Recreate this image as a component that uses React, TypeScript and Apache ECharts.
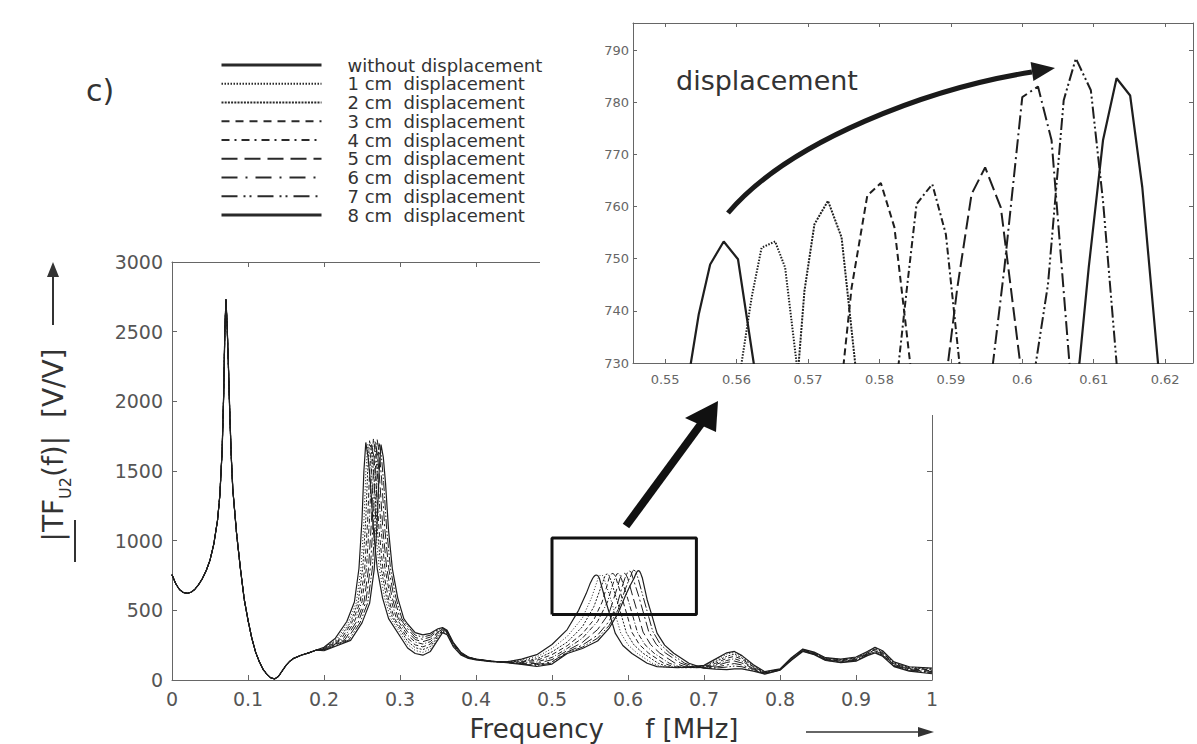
import React, { useEffect, useRef } from 'react';
import * as echarts from 'echarts';

const FONT = "'DejaVu Sans', 'Liberation Sans', sans-serif";

const curveNames = [
  'without displacement',
  '1 cm  displacement',
  '2 cm  displacement',
  '3 cm  displacement',
  '4 cm  displacement',
  '5 cm  displacement',
  '6 cm  displacement',
  '7 cm  displacement',
  '8 cm  displacement',
];

// Shared low-frequency part (all curves coincide), [f MHz, |TF|]
const sharedLow = [
  [0, 755], [0.005, 690], [0.01, 648], [0.015, 628], [0.02, 622], [0.025, 630], [0.03, 650],
  [0.035, 685], [0.04, 728], [0.045, 785], [0.05, 860], [0.055, 975], [0.06, 1150], [0.063, 1330],
  [0.066, 1650], [0.068, 2050], [0.0695, 2500], [0.071, 2730], [0.0725, 2550], [0.074, 2300],
  [0.076, 1920], [0.078, 1600], [0.08, 1370], [0.085, 1050], [0.09, 800], [0.095, 580],
  [0.1, 430], [0.105, 300], [0.11, 200], [0.115, 130], [0.12, 75], [0.125, 40], [0.13, 15],
  [0.135, 8], [0.14, 25], [0.145, 65], [0.15, 105], [0.155, 135], [0.16, 155], [0.17, 178],
  [0.18, 195], [0.19, 215],
];

// Resonance near 0.26 MHz, one list per curve
const peak1Curves = [
  [[0.2, 235], [0.215, 300], [0.23, 420], [0.24, 560], [0.246, 800], [0.25, 1150], [0.2525, 1500], [0.255, 1705], [0.258, 1600], [0.261, 1420], [0.265, 1080], [0.27, 800], [0.277, 590], [0.285, 440], [0.31, 230], [0.32, 190], [0.33, 178], [0.34, 205], [0.35, 290], [0.356, 340], [0.362, 325], [0.37, 240], [0.38, 180], [0.39, 155], [0.4, 145], [0.42, 132]],
  [[0.2, 232], [0.2175, 298], [0.2325, 418], [0.2425, 555], [0.2485, 790], [0.2525, 1140], [0.255, 1490], [0.2575, 1690], [0.2605, 1610], [0.2635, 1410], [0.2675, 1090], [0.2725, 810], [0.2795, 595], [0.2875, 445], [0.31, 255], [0.32, 212], [0.33, 198], [0.34, 222], [0.35, 300], [0.356, 345], [0.362, 330], [0.37, 245], [0.38, 183], [0.39, 157], [0.4, 146], [0.42, 132]],
  [[0.2, 229], [0.22, 296], [0.235, 415], [0.245, 560], [0.251, 805], [0.255, 1160], [0.2575, 1510], [0.26, 1720], [0.263, 1620], [0.266, 1430], [0.27, 1085], [0.275, 805], [0.282, 600], [0.29, 448], [0.31, 278], [0.32, 232], [0.33, 218], [0.34, 240], [0.35, 312], [0.356, 350], [0.362, 335], [0.37, 250], [0.38, 186], [0.39, 158], [0.4, 147], [0.42, 133]],
  [[0.2, 226], [0.2225, 294], [0.2375, 420], [0.2475, 558], [0.2535, 795], [0.2575, 1150], [0.26, 1495], [0.2625, 1700], [0.2655, 1605], [0.2685, 1415], [0.2725, 1075], [0.2775, 800], [0.2845, 592], [0.2925, 442], [0.31, 300], [0.32, 252], [0.33, 238], [0.34, 258], [0.35, 324], [0.356, 355], [0.362, 340], [0.37, 254], [0.38, 189], [0.39, 160], [0.4, 148], [0.42, 133]],
  [[0.2, 223], [0.225, 292], [0.24, 418], [0.25, 562], [0.256, 810], [0.26, 1165], [0.2625, 1515], [0.265, 1730], [0.268, 1625], [0.271, 1435], [0.275, 1090], [0.28, 810], [0.287, 598], [0.295, 446], [0.31, 322], [0.32, 272], [0.33, 258], [0.34, 275], [0.35, 335], [0.356, 360], [0.362, 345], [0.37, 258], [0.38, 192], [0.39, 161], [0.4, 148], [0.42, 134]],
  [[0.2, 220], [0.2275, 290], [0.2425, 416], [0.2525, 556], [0.2585, 798], [0.2625, 1145], [0.265, 1500], [0.2675, 1710], [0.2705, 1612], [0.2735, 1420], [0.2775, 1080], [0.2825, 802], [0.2895, 594], [0.2975, 444], [0.31, 345], [0.32, 290], [0.33, 275], [0.34, 292], [0.35, 345], [0.356, 364], [0.362, 348], [0.37, 262], [0.38, 194], [0.39, 162], [0.4, 149], [0.42, 134]],
  [[0.2, 217], [0.23, 288], [0.245, 414], [0.255, 560], [0.261, 806], [0.265, 1158], [0.2675, 1508], [0.27, 1725], [0.273, 1618], [0.276, 1428], [0.28, 1086], [0.285, 806], [0.292, 596], [0.3, 442], [0.31, 368], [0.32, 305], [0.33, 292], [0.34, 308], [0.35, 355], [0.356, 368], [0.362, 351], [0.37, 265], [0.38, 196], [0.39, 163], [0.4, 149], [0.42, 135]],
  [[0.2, 214], [0.2325, 286], [0.2475, 412], [0.2575, 554], [0.2635, 796], [0.2675, 1148], [0.27, 1498], [0.2725, 1700], [0.2755, 1606], [0.2785, 1418], [0.2825, 1078], [0.2875, 800], [0.2945, 592], [0.3025, 440], [0.31, 385], [0.32, 322], [0.33, 308], [0.34, 322], [0.35, 362], [0.356, 372], [0.362, 354], [0.37, 268], [0.38, 198], [0.39, 164], [0.4, 150], [0.42, 135]],
  [[0.2, 210], [0.235, 284], [0.25, 410], [0.26, 550], [0.266, 790], [0.27, 1140], [0.2725, 1490], [0.275, 1690], [0.278, 1600], [0.281, 1410], [0.285, 1070], [0.29, 795], [0.297, 590], [0.305, 440], [0.31, 402], [0.32, 340], [0.33, 324], [0.34, 335], [0.35, 368], [0.356, 376], [0.362, 357], [0.37, 271], [0.38, 200], [0.39, 165], [0.4, 150], [0.42, 135]],
];

// Rising flank of the resonance near 0.6 MHz
const peak2Left = [
  [[0.44, 130], [0.46, 150], [0.48, 182], [0.5, 255], [0.52, 362], [0.535, 500], [0.545, 620], [0.55, 690]],
  [[0.44, 130], [0.46, 142], [0.48, 166], [0.5, 226], [0.52, 312], [0.54, 445], [0.552, 590], [0.557, 670]],
  [[0.44, 129], [0.46, 136], [0.48, 152], [0.5, 202], [0.52, 272], [0.54, 382], [0.555, 525], [0.564, 660]],
  [[0.44, 128], [0.46, 131], [0.48, 141], [0.5, 182], [0.52, 246], [0.54, 332], [0.555, 432], [0.566, 560], [0.572, 670]],
  [[0.44, 127], [0.46, 126], [0.48, 129], [0.5, 162], [0.52, 226], [0.54, 300], [0.56, 420], [0.573, 560], [0.579, 670]],
  [[0.44, 127], [0.46, 121], [0.48, 118], [0.5, 146], [0.52, 211], [0.54, 270], [0.56, 362], [0.575, 478], [0.586, 665]],
  [[0.44, 126], [0.46, 118], [0.48, 110], [0.5, 131], [0.52, 201], [0.54, 250], [0.56, 322], [0.575, 420], [0.586, 545], [0.592, 665]],
  [[0.44, 126], [0.46, 115], [0.48, 104], [0.5, 122], [0.52, 196], [0.54, 236], [0.56, 300], [0.575, 390], [0.587, 505], [0.597, 660]],
  [[0.44, 125], [0.46, 112], [0.48, 97], [0.5, 114], [0.52, 190], [0.54, 226], [0.56, 280], [0.575, 370], [0.587, 480], [0.597, 610], [0.603, 680]],
];

// Peak tops as read from the enlarged view (0.545 - 0.624 MHz, 730 - 795)
const insetPeaks = [
  [[0.5536, 730], [0.5547, 739.3], [0.5563, 748.9], [0.5582, 753.3], [0.5602, 749.9], [0.5624, 730]],
  [[0.5607, 730], [0.5621, 742.5], [0.5635, 752.1], [0.5654, 753.3], [0.5668, 748.3], [0.5684, 730]],
  [[0.5687, 730], [0.5695, 743.8], [0.5709, 756.6], [0.5728, 761.1], [0.5747, 754.1], [0.5766, 730]],
  [[0.575, 730], [0.5761, 744.4], [0.5783, 762.1], [0.5802, 764.5], [0.5821, 756.0], [0.5843, 730]],
  [[0.5827, 730], [0.5838, 743.8], [0.5852, 760.5], [0.5874, 764.3], [0.5893, 754.7], [0.5912, 730]],
  [[0.5896, 730], [0.5909, 744.4], [0.5929, 762.4], [0.5948, 767.5], [0.597, 759.8], [0.5997, 730]],
  [[0.5959, 730], [0.5975, 748.3], [0.6, 781.0], [0.6022, 783.0], [0.6041, 772.7], [0.6066, 730]],
  [[0.6019, 730], [0.6036, 745.1], [0.6058, 780.4], [0.6075, 788.4], [0.6096, 782.3], [0.6113, 761.1], [0.6132, 730]],
  [[0.608, 730], [0.6093, 748.3], [0.6113, 772.7], [0.6132, 784.6], [0.6151, 781.3], [0.6168, 763.7], [0.619, 730]],
];

// Falling flank of the resonance near 0.6 MHz
const peak2Right = [
  [[0.5702, 576], [0.5772, 448], [0.5832, 336], [0.5932, 248], [0.6052, 190], [0.6252, 120], [0.6382, 96], [0.665, 88]],
  [[0.5774, 578], [0.5844, 450], [0.5904, 338], [0.6004, 250], [0.6124, 190], [0.6324, 119], [0.6454, 95], [0.67, 88]],
  [[0.5848, 585], [0.5918, 455], [0.5978, 340], [0.6078, 252], [0.6198, 192], [0.6398, 120], [0.6528, 95], [0.675, 88]],
  [[0.5922, 588], [0.5992, 458], [0.6052, 342], [0.6152, 253], [0.6272, 192], [0.6472, 120], [0.6602, 95], [0.68, 88]],
  [[0.5994, 588], [0.6064, 458], [0.6124, 342], [0.6224, 253], [0.6344, 192], [0.6544, 120], [0.6674, 95], [0.685, 88]],
  [[0.6068, 590], [0.6138, 460], [0.6198, 344], [0.6298, 254], [0.6418, 193], [0.6618, 121], [0.6748, 95], [0.69, 88]],
  [[0.6142, 600], [0.6212, 465], [0.6272, 348], [0.6372, 256], [0.6492, 194], [0.6692, 121], [0.6822, 95]],
  [[0.6195, 605], [0.6265, 468], [0.6325, 350], [0.6425, 257], [0.6545, 195], [0.6745, 121], [0.6875, 95]],
  [[0.6252, 576], [0.6322, 450], [0.6382, 336], [0.6482, 250], [0.6602, 192], [0.6802, 120], [0.6932, 96]],
];

// High-frequency part
const tailX = [0.7, 0.715, 0.73, 0.74, 0.75, 0.765, 0.78, 0.8, 0.815, 0.83, 0.845, 0.86, 0.88, 0.9, 0.915, 0.925, 0.935, 0.95, 0.97, 1.0];
const tailCurves = [
  [105, 150, 195, 205, 175, 110, 60, 80, 160, 222, 200, 160, 150, 165, 205, 235, 210, 130, 95, 85],
  [100, 140, 186, 198, 168, 104, 58, 78, 158, 220, 198, 158, 147, 162, 203, 232, 205, 124, 92, 82],
  [98, 131, 170, 186, 158, 100, 55, 76, 155, 218, 195, 156, 145, 158, 198, 228, 200, 121, 88, 77],
  [95, 119, 156, 170, 149, 95, 53, 75, 153, 215, 193, 152, 142, 155, 194, 222, 196, 116, 84, 72],
  [92, 110, 140, 153, 135, 88, 50, 74, 150, 214, 190, 150, 138, 150, 190, 217, 190, 112, 80, 66],
  [90, 101, 126, 136, 122, 82, 48, 73, 148, 212, 188, 148, 135, 146, 186, 210, 185, 108, 76, 60],
  [88, 92, 108, 118, 108, 76, 46, 72, 146, 210, 186, 145, 131, 142, 182, 205, 180, 104, 72, 55],
  [86, 85, 93, 100, 95, 70, 44, 71, 144, 208, 184, 142, 128, 138, 178, 200, 175, 100, 68, 50],
  [85, 78, 75, 80, 80, 64, 42, 70, 142, 205, 182, 140, 125, 135, 175, 195, 170, 96, 64, 45],
];

// Marked region on the main plot
const zoomBoxX = [0.5, 0.69, 0.69, 0.5, 0.5];
const zoomBoxY = [470, 470, 1020, 1020, 470];

const mainXTicks = { min: 0, max: 1, interval: 0.1 };
const mainYTicks = { min: 0, max: 3000, interval: 500 };
const insetRangeX = [0.5455, 0.6239];
const insetRangeY = [730, 795.2];
const insetXTicks = [0.55, 0.56, 0.57, 0.58, 0.59, 0.6, 0.61, 0.62];
const insetYTicks = [730, 740, 750, 760, 770, 780, 790];

const dashMain: any[] = ['solid', [1, 2], [2, 1.5], [5, 3], [5, 2, 1, 2], [10, 4], [10, 3, 2, 3], [10, 2, 1.5, 2, 1.5, 2], 'solid'];
const dashInset: any[] = ['solid', [1.5, 1.5], [2, 1.2], [7, 4], [7, 3, 2, 3], [14, 5], [14, 4, 2, 4], [12, 3, 2, 3, 2, 3], 'solid'];
const dashLegend: any[] = ['solid', [1.5, 1.5], [2, 1.2], [8, 6], [8, 5, 2, 5], [16, 7], [16, 8, 2, 8], [16, 6, 2, 4, 2, 6], 'solid'];

const curveData = curveNames.map((_, i) => [
  ...sharedLow,
  ...peak1Curves[i],
  ...peak2Left[i],
  ...insetPeaks[i],
  ...peak2Right[i],
  ...tailX.map((x, k) => [x, tailCurves[i][k]]),
]);

const axisLine = { show: true, onZero: false, lineStyle: { color: '#666', width: 1 } };
const plainNumber = (v: number) => String(v);

export default function App() {
  const ref = useRef<HTMLDivElement>(null);
  useEffect(() => {
    const chart = echarts.init(ref.current!, null, { renderer: 'svg' });
    const mainSeries = curveNames.map((name, i) => ({
      type: 'line',
      name,
      xAxisIndex: 0,
      yAxisIndex: 0,
      data: curveData[i],
      symbol: 'none',
      silent: true,
      z: 2,
      lineStyle: { color: '#1e1e1e', width: i === 0 || i === 8 ? 1.2 : 1, type: dashMain[i] },
    }));
    const insetSeries = curveNames.map((name, i) => ({
      type: 'line',
      name,
      xAxisIndex: 2,
      yAxisIndex: 2,
      data: curveData[i],
      symbol: 'none',
      silent: true,
      clip: true,
      z: 10,
      lineStyle: { color: '#1e1e1e', width: i === 0 || i === 8 ? 2.2 : 2, type: dashInset[i] },
    }));
    const option: any = {
      animation: false,
      backgroundColor: '#ffffff',
      textStyle: { fontFamily: FONT },
      legend: {
        orient: 'vertical',
        left: 220,
        top: 56,
        padding: 0,
        itemWidth: 100,
        itemHeight: 14,
        itemGap: 0.75,
        selectedMode: false,
        z: 20,
        itemStyle: { opacity: 0, color: 'rgba(0,0,0,0)', borderWidth: 0 },
        textStyle: { fontFamily: FONT, fontSize: 18, color: '#333', padding: [0, 0, 0, 21], lineHeight: 18 },
        data: curveNames.map((name, i) => ({
          name,
          itemStyle: { opacity: 0, color: 'rgba(0,0,0,0)', borderWidth: 0 },
          lineStyle: { width: i === 0 || i === 8 ? 3 : 2, type: dashLegend[i], color: '#2a2a2a', opacity: 1 },
        })),
      },
      grid: [
        { left: 172, top: 262, width: 760, height: 418, outerBoundsMode: 'none' },
        { left: 633, top: 23, width: 560, height: 340, outerBoundsMode: 'none' },
      ],
      xAxis: [
        {
          gridIndex: 0, type: 'value', position: 'bottom', ...mainXTicks,
          axisLine, axisTick: { show: true, inside: true, length: 5, lineStyle: { color: '#666' } },
          axisLabel: { fontFamily: FONT, fontSize: 19, color: '#555', margin: 9, formatter: plainNumber },
          splitLine: { show: false },
        },
        {
          gridIndex: 0, type: 'value', position: 'top', ...mainXTicks,
          axisLine, axisTick: { show: true, inside: true, length: 5, lineStyle: { color: '#666' } },
          axisLabel: { show: false }, splitLine: { show: false },
        },
        {
          gridIndex: 1, type: 'value', position: 'bottom', min: insetRangeX[0], max: insetRangeX[1], z: 10,
          axisLine, axisTick: { show: true, inside: true, length: 4, customValues: insetXTicks, lineStyle: { color: '#666' } },
          axisLabel: {
            customValues: insetXTicks, fontFamily: FONT, fontSize: 13, color: '#666', margin: 10,
            formatter: (v: number) => String(Number(v.toFixed(2))),
          },
          splitLine: { show: false },
        },
        {
          gridIndex: 1, type: 'value', position: 'top', min: insetRangeX[0], max: insetRangeX[1], z: 10,
          axisLine, axisTick: { show: true, inside: true, length: 4, customValues: insetXTicks, lineStyle: { color: '#666' } },
          axisLabel: { show: false }, splitLine: { show: false },
        },
      ],
      yAxis: [
        {
          gridIndex: 0, type: 'value', position: 'left', ...mainYTicks,
          axisLine, axisTick: { show: true, inside: true, length: 5, lineStyle: { color: '#666' } },
          axisLabel: { fontFamily: FONT, fontSize: 19, color: '#555', margin: 9, formatter: plainNumber },
          splitLine: { show: false },
        },
        {
          gridIndex: 0, type: 'value', position: 'right', ...mainYTicks,
          axisLine, axisTick: { show: true, inside: true, length: 5, lineStyle: { color: '#666' } },
          axisLabel: { show: false }, splitLine: { show: false },
        },
        {
          gridIndex: 1, type: 'value', position: 'left', min: insetRangeY[0], max: insetRangeY[1], z: 10,
          axisLine, axisTick: { show: true, inside: true, length: 4, customValues: insetYTicks, lineStyle: { color: '#666' } },
          axisLabel: { customValues: insetYTicks, fontFamily: FONT, fontSize: 13, color: '#666', margin: 4, formatter: plainNumber },
          splitLine: { show: false },
        },
        {
          gridIndex: 1, type: 'value', position: 'right', min: insetRangeY[0], max: insetRangeY[1], z: 10,
          axisLine, axisTick: { show: true, inside: true, length: 4, customValues: insetYTicks, lineStyle: { color: '#666' } },
          axisLabel: { show: false }, splitLine: { show: false },
        },
      ],
      series: [
        ...mainSeries,
        {
          type: 'line',
          name: 'zoom region',
          xAxisIndex: 0,
          yAxisIndex: 0,
          data: zoomBoxX.map((x, k) => [x, zoomBoxY[k]]),
          symbol: 'none',
          silent: true,
          z: 3,
          lineStyle: { color: '#111', width: 3 },
        },
        ...insetSeries,
      ],
      graphic: {
        elements: [
          { type: 'rect', z: 5, silent: true, shape: { x: 540, y: 0, width: 657, height: 415 }, style: { fill: '#ffffff' } },
          { type: 'text', z: 12, x: 86, y: 90, style: { text: 'c)', fontFamily: FONT, fontSize: 30, fill: '#333', align: 'left', verticalAlign: 'middle' } },
          { type: 'text', z: 12, x: 676, y: 80, style: { text: 'displacement', fontFamily: FONT, fontSize: 27, fill: '#333', align: 'left', verticalAlign: 'middle' } },
          { type: 'bezierCurve', z: 12, silent: true, shape: { x1: 728, y1: 213, cpx1: 790, cpy1: 140, cpx2: 930, cpy2: 88, x2: 1032, y2: 72 }, style: { stroke: '#1a1a1a', lineWidth: 5, fill: null } },
          { type: 'polygon', z: 12, silent: true, shape: { points: [[1055, 68], [1033.4, 81], [1030.6, 62]] }, style: { fill: '#1a1a1a' } },
          { type: 'line', z: 12, silent: true, shape: { x1: 626, y1: 526, x2: 701, y2: 424 }, style: { stroke: '#111', lineWidth: 8 } },
          { type: 'polygon', z: 12, silent: true, shape: { points: [[718, 401], [685, 418], [716, 432]] }, style: { fill: '#111' } },
          {
            type: 'text', z: 12, x: 53, y: 445, rotation: Math.PI / 2,
            style: {
              text: '{m||}{m|TF}{s|U2}{m|(f)|  [V/V]}',
              fill: '#333', align: 'center', verticalAlign: 'middle',
              rich: {
                m: { fontFamily: FONT, fontSize: 28, lineHeight: 28, verticalAlign: 'middle', fill: '#333' },
                s: { fontFamily: FONT, fontSize: 16, lineHeight: 40, verticalAlign: 'bottom', fill: '#333' },
              },
            },
          },
          { type: 'line', z: 12, silent: true, shape: { x1: 75, y1: 520, x2: 75, y2: 562 }, style: { stroke: '#333', lineWidth: 2 } },
          { type: 'line', z: 12, silent: true, shape: { x1: 53, y1: 325, x2: 53, y2: 274 }, style: { stroke: '#333', lineWidth: 2 } },
          { type: 'polygon', z: 12, silent: true, shape: { points: [[53, 262], [47, 277], [59, 277]] }, style: { fill: '#333' } },
          { type: 'text', z: 12, x: 604, y: 729, style: { text: 'Frequency     f [MHz]', fontFamily: FONT, fontSize: 26, fill: '#333', align: 'center', verticalAlign: 'middle' } },
          { type: 'line', z: 12, silent: true, shape: { x1: 806, y1: 732, x2: 920, y2: 732 }, style: { stroke: '#333', lineWidth: 1.5 } },
          { type: 'polygon', z: 12, silent: true, shape: { points: [[934, 732], [918, 727], [918, 737]] }, style: { fill: '#333' } },
        ],
      },
    };
    chart.setOption(option);
    return () => chart.dispose();
  }, []);
  return (
    <div
      ref={ref}
      style={{ position: 'fixed', left: 0, top: 0, width: 1197, height: 744, background: '#fff' }}
    />
  );
}
